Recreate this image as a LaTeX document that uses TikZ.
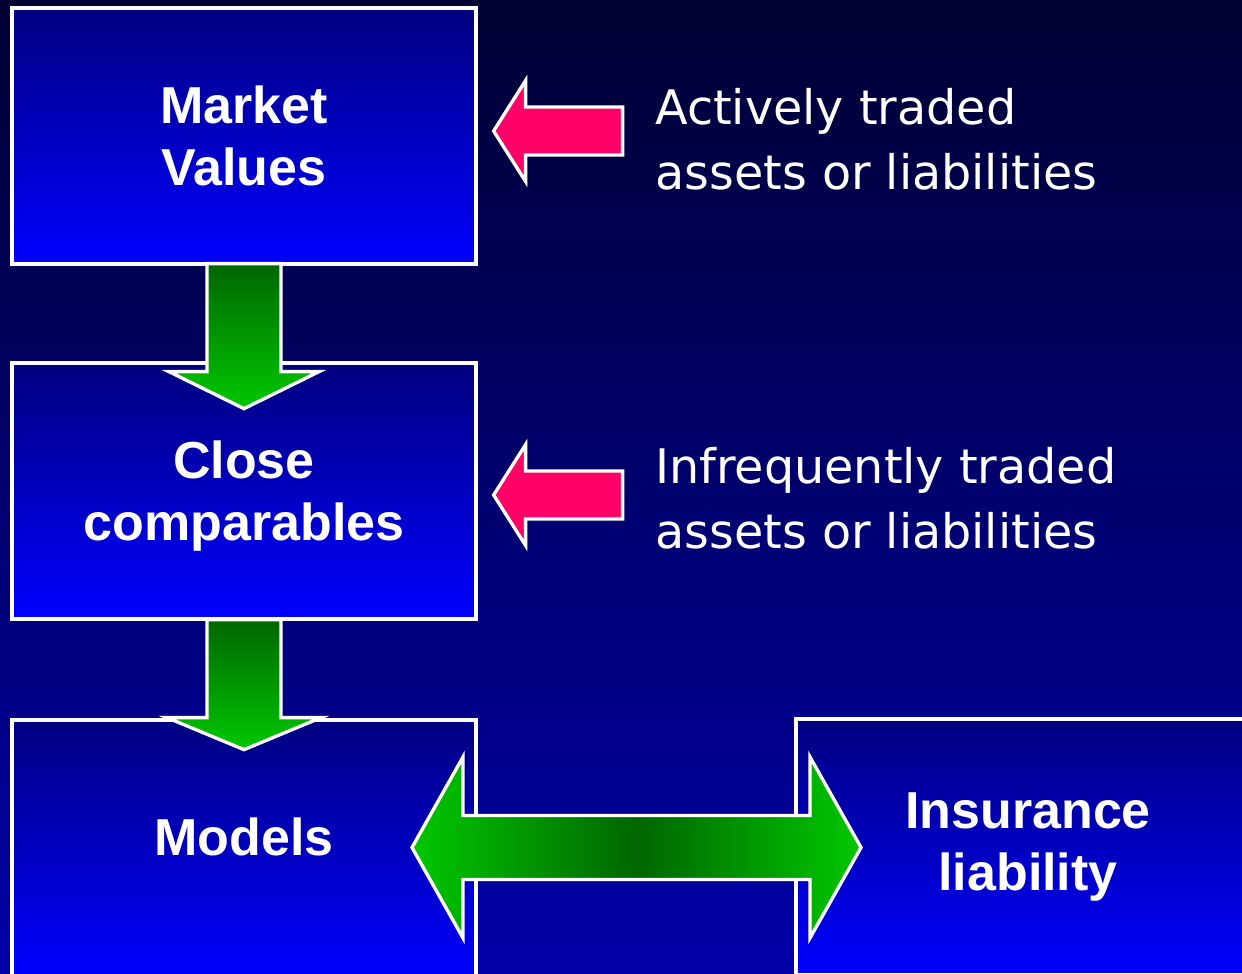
\documentclass[tikz,border=0pt]{standalone}
\usepackage{fontspec}
\setmainfont{DejaVu Sans}
\newfontfamily\labelfont{Liberation Sans}
\usetikzlibrary{calc}

\definecolor{bgtop}{HTML}{000033}
\definecolor{bgbottom}{HTML}{0000A8}
\definecolor{boxtop}{HTML}{000080}
\definecolor{boxbottom}{HTML}{0000FF}
\definecolor{darkgreen}{HTML}{006600}
\definecolor{lightgreen}{HTML}{00C800}
\definecolor{hotpink}{HTML}{FF0066}

\begin{document}
\begin{tikzpicture}[
    x=0.02cm, y=-0.02cm,
    valuebox/.style={
      rectangle,
      draw=white, line width=1.9pt,
      top color=boxtop, bottom color=boxbottom,
      minimum width=9.28cm, minimum height=5.12cm,
      inner sep=0pt, text depth=0pt,
      text=white, align=center,
      font=\labelfont\bfseries\fontsize{29.6}{35.3}\selectfont
    },
    sidetext/.style={
      text=white, align=left, inner sep=0pt,
      font=\fontsize{27.1}{36.5}\selectfont
    },
    downarrow/.style={
      draw=white, line width=1.9pt,
      top color=darkgreen, bottom color=lightgreen
    },
    linkarrow/.style={
      draw=white, line width=1.9pt,
      left color=lightgreen, right color=lightgreen, middle color=darkgreen
    },
    pinkarrow/.style={
      draw=white, line width=1.9pt, fill=hotpink
    }
  ]

    \useasboundingbox (0,0) rectangle (1242,974);
    \fill[top color=bgtop, bottom color=bgbottom] (0,0) rectangle (1242,974);

    \node[valuebox] (market) at (244,136) {Market\\Values};
    \node[valuebox] (close) at (244,491) {Close\\comparables};
    \node[valuebox, text depth=13.4pt] (models) at (244,848) {Models};
    \node[valuebox, text depth=6.3pt] (insurance) at (1028,847) {Insurance\\liability};

    % base anchor sits on the last line
    \node[sidetext, anchor=base west] (active) at (655,189) {Actively traded\\assets or liabilities};
    \node[sidetext, anchor=base west] (rare) at (655,548) {Infrequently traded\\assets or liabilities};

    % down arrows between the boxes
    \draw[downarrow] ($(market.south)+(-37,-2)$) -- ++(0,108) -- ++(-38,0)
      -- ($(market.south)+(0,143)$) -- ($(market.south)+(75,106)$) -- ++(-38,0)
      -- ($(market.south)+(37,-2)$) -- cycle;
    \draw[downarrow] ($(close.south)+(-37,-1)$) -- ++(0,98) -- ++(-40,0)
      -- ($(close.south)+(0,129)$) -- ($(close.south)+(77,97)$) -- ++(-40,0)
      -- ($(close.south)+(37,-1)$) -- cycle;

    % two way arrow models <-> insurance
    \coordinate (link) at ($(models.east)!0.5!(insurance.west)$);
    \draw[linkarrow] ($(link)+(-224,0)$) -- ($(link)+(-173,-90.5)$) -- ++(0,58.5)
      -- ($(link)+(174,-32)$) -- ++(0,-58.5) -- ($(link)+(225,0)$)
      -- ($(link)+(174,90.5)$) -- ++(0,-58.5) -- ($(link)+(-173,32)$)
      -- ++(0,58.5) -- cycle;

    % pink arrows from the texts
    \coordinate (tipA) at ($(market.east)+(16,-5)$);
    \coordinate (tipB) at ($(close.east)+(16,4)$);
    \draw[pinkarrow] (tipA) -- ++(32,-50.5) -- ++(0,26.5) -- ++(97,0) -- ++(0,48)
      -- ++(-97,0) -- ++(0,26.5) -- cycle;
    \draw[pinkarrow] (tipB) -- ++(32,-50.5) -- ++(0,26.5) -- ++(97,0) -- ++(0,48)
      -- ++(-97,0) -- ++(0,26.5) -- cycle;

  \end{tikzpicture}
\end{document}
